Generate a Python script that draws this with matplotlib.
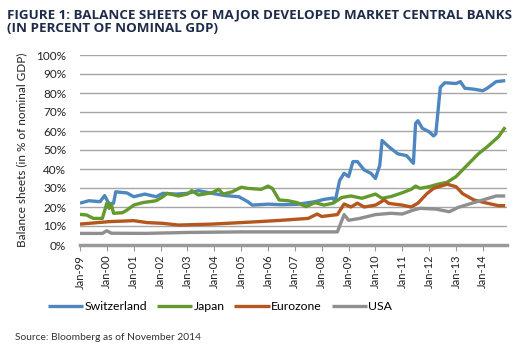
import pandas as pd
import matplotlib.pyplot as plt
import matplotlib.dates as mdates
from matplotlib.ticker import FuncFormatter

# Balance sheets in % of nominal GDP
swiss_dates = ['1999-01', '1999-05', '1999-10', '1999-12', '2000-02', '2000-04', '2000-05', '2000-10',
               '2001-01', '2001-06', '2001-11', '2002-02', '2002-08', '2003-01', '2003-06', '2003-12',
               '2004-06', '2004-12', '2005-04', '2005-06', '2005-09', '2006-01', '2006-07', '2007-02',
               '2007-10', '2008-02', '2008-06', '2008-07', '2008-09', '2008-11', '2009-01', '2009-03',
               '2009-05', '2009-08', '2009-11', '2010-01', '2010-03', '2010-04', '2010-07', '2010-11',
               '2011-03', '2011-06', '2011-07', '2011-08', '2011-10', '2012-01', '2012-03', '2012-04',
               '2012-06', '2012-08', '2013-01', '2013-03', '2013-05', '2013-09', '2014-01', '2014-03',
               '2014-07', '2014-11']
swiss_vals = [22, 23.3, 22.8, 26, 21.6, 22, 28, 27.4,
              25.4, 26.8, 25.4, 27.2, 26.8, 27.2, 28.6, 27.2,
              26, 25.4, 22.8, 21, 21.2, 21.5, 21.2, 21.4,
              22.8, 24, 24.7, 22.8, 34, 37.7, 36, 43.9,
              43.9, 39.5, 37.7, 35, 42, 55, 51.7, 48,
              47, 43, 64, 65.4, 61.4, 59.6, 57.4, 58.5,
              83, 85.4, 85, 86, 82.5, 82, 81.2, 82.5,
              86, 86.5]

japan_dates = ['1999-01', '1999-04', '1999-07', '1999-11', '2000-01', '2000-02', '2000-03', '2000-04',
               '2000-08', '2000-10', '2001-01', '2001-05', '2001-11', '2002-02', '2002-04', '2002-09',
               '2003-01', '2003-03', '2003-06', '2003-12', '2004-03', '2004-05', '2004-09', '2005-01',
               '2005-04', '2005-10', '2006-01', '2006-03', '2006-06', '2006-10', '2007-02', '2007-06',
               '2007-10', '2008-02', '2008-06', '2008-10', '2009-02', '2009-07', '2010-01', '2010-04',
               '2010-08', '2011-01', '2011-05', '2011-07', '2011-09', '2012-01', '2012-05', '2012-09',
               '2013-01', '2013-06', '2013-11', '2014-03', '2014-08', '2014-11']
japan_vals = [16.1, 15.8, 14, 14, 22, 19.3, 21.6, 16.7,
              17, 18.4, 21, 22.3, 23.3, 25.4, 27.2, 25.8,
              26.8, 28.6, 26.3, 27.5, 29.3, 26.8, 28, 30.4,
              29.8, 29.3, 31, 29.8, 23.7, 23.3, 22.3, 20.2,
              22.3, 21, 22, 25, 25.8, 24.6, 26.8, 24.6,
              25.5, 27.5, 29.3, 31, 29.8, 30.7, 32, 33,
              36, 42, 48, 51.7, 57, 62]

euro_dates = ['1999-01', '2000-02', '2001-01', '2001-07', '2002-02', '2002-09', '2003-12', '2005-01',
              '2005-09', '2006-07', '2007-07', '2007-11', '2008-01', '2008-08', '2008-11', '2009-02',
              '2009-05', '2009-08', '2010-01', '2010-05', '2010-07', '2011-01', '2011-05', '2011-08',
              '2011-12', '2012-03', '2012-09', '2013-01', '2013-04', '2013-09', '2014-03', '2014-08',
              '2014-11']
euro_vals = [11, 12.3, 12.8, 11.8, 11.4, 10.5, 11, 11.8,
             12.3, 13, 14, 16.3, 15, 16, 21.6, 20,
             22, 20, 21, 23.7, 21.9, 21, 20, 22,
             27, 29.8, 32, 30.7, 27, 23.7, 22, 20.7,
             20.7]

usa_dates = ['1999-01', '1999-11', '2000-01', '2000-03', '2001-06', '2003-01', '2005-01', '2008-08',
             '2008-11', '2009-01', '2009-06', '2010-01', '2010-08', '2011-01', '2011-06', '2011-09',
             '2012-04', '2012-10', '2013-02', '2013-07', '2014-01', '2014-07', '2014-11']
usa_vals = [6.1, 6.1, 7.5, 6.2, 6.1, 6.6, 6.9, 6.9,
            16, 13, 14, 16, 16.7, 16.3, 18.4, 19.3,
            18.9, 17.5, 19.8, 21.6, 23.7, 25.8, 25.8]

series = [
    ('Switzerland', swiss_dates, swiss_vals, '#4E87C0'),
    ('Japan', japan_dates, japan_vals, '#64992B'),
    ('Eurozone', euro_dates, euro_vals, '#B5561E'),
    ('USA', usa_dates, usa_vals, '#8F8F8F'),
]

plt.rcParams['font.family'] = ['Lato', 'DejaVu Sans']

fig = plt.figure(figsize=(5.15, 3.52), dpi=100)
ax = fig.add_axes([80 / 515, 1 - 245 / 352, 427 / 515, 190 / 352])

for name, d, v, c in series:
    ax.plot(pd.to_datetime(d), v, color=c, lw=2.4, label=name, solid_capstyle='butt')

ax.set_ylim(0, 100)
ax.set_yticks(range(0, 101, 10))
ax.yaxis.set_major_formatter(FuncFormatter(lambda v, p: f'{int(v)}%'))
ax.set_xlim(pd.Timestamp('1999-01-01'), pd.Timestamp('2014-11-25'))
ax.xaxis.set_major_locator(mdates.YearLocator())
ax.xaxis.set_major_formatter(mdates.DateFormatter('Jan-%y'))
plt.setp(ax.get_xticklabels(), rotation=90)

ax.grid(axis='y', color='#A6A6A6', lw=1)
ax.set_axisbelow(True)
for s in ['top', 'right', 'left']:
    ax.spines[s].set_visible(False)
ax.spines['bottom'].set_color('#9A9A9A')
ax.spines['bottom'].set_linewidth(2.5)
ax.tick_params(axis='y', length=0, labelsize=8.5, pad=10, colors='#222222')
ax.tick_params(axis='x', length=4, color='#9A9A9A', labelsize=8, pad=3, labelcolor='#222222')

ax.set_ylabel('Balance sheets (in % of nominal GDP)', fontsize=8.5, color='#222222', labelpad=6)

fig.text(7 / 515, 0.975, 'FIGURE 1: BALANCE SHEETS OF MAJOR DEVELOPED MARKET CENTRAL BANKS\n(IN PERCENT OF NOMINAL GDP)',
         fontsize=9.6, fontweight='bold', color='#1E2B4A', va='top', family=['Open Sans', 'DejaVu Sans'],
         linespacing=1.05)

fig.legend(loc='center', bbox_to_anchor=(220 / 515, 1 - 307 / 352), ncol=4, frameon=False,
           fontsize=8.8, handlelength=2.9, handletextpad=0.1, columnspacing=0.8)

fig.text(15 / 515, 1 - 337 / 352, 'Source: Bloomberg as of November 2014', fontsize=7.4, color='#333333',
         va='center', family=['Lato', 'DejaVu Sans'])

fig.savefig('out.png', dpi=100)
